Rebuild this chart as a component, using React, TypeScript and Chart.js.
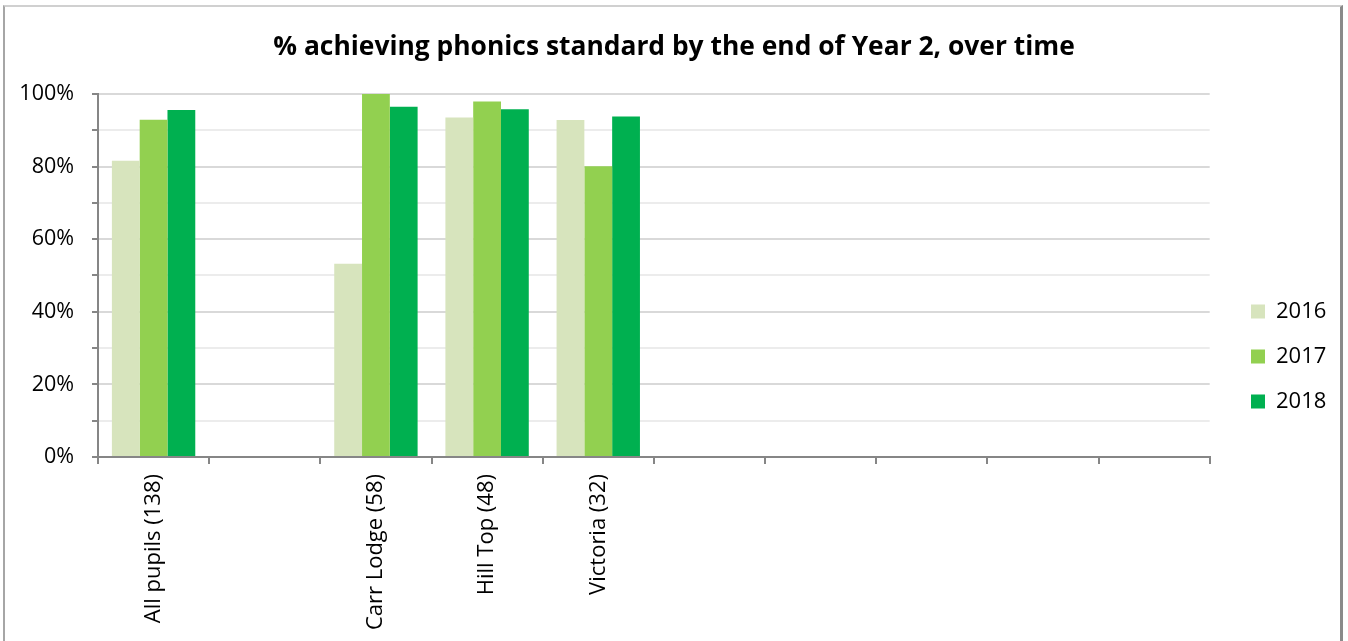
import React, { useEffect, useRef } from 'react';
import { Chart, registerables } from 'chart.js';

Chart.register(...registerables);

const categories = ['All pupils (138)', '', 'Carr Lodge (58)', 'Hill Top (48)', 'Victoria (32)', '', '', '', '', ''];
const values2016 = [81.6, null, 53.2, 93.5, 92.8, null, null, null, null, null];
const values2017 = [92.9, null, 100, 97.9, 80.1, null, null, null, null, null];
const values2018 = [95.6, null, 96.5, 95.8, 93.8, null, null, null, null, null];
const seriesNames = ['2016', '2017', '2018'];
const seriesColors = ['#d7e4bd', '#92d050', '#00b050'];
const titleText = '% achieving phonics standard by the end of Year 2, over time';

const FONT = "'Open Sans', 'Noto Sans', sans-serif";
const AXIS_GREY = '#868686';
const W = 1348;
const H = 641;

const LEGEND_BOX_X = 1251;
const LEGEND_DY = 36;

const layoutNudge = {
  id: 'layoutNudge',
  afterLayout(chart: any) {
    const lg = chart.legend;
    if (lg) {
      const pad = lg.options.labels.padding;
      const dx = LEGEND_BOX_X - (lg.left + pad);
      lg.left += dx;
      lg.right += dx;
      lg.top += LEGEND_DY;
      lg.bottom += LEGEND_DY;
    }
    const tt = chart.titleBlock;
    if (tt) {
      tt.left = 0;
      tt.right = W;
      tt.width = W;
    }
  },
};

export default function App() {
  const ref = useRef<HTMLCanvasElement | null>(null);

  useEffect(() => {
    if (!ref.current) return;
    const seriesValues = [values2016, values2017, values2018];
    const chart = new Chart(ref.current, {
      type: 'bar',
      data: {
        labels: categories,
        datasets: seriesNames.map((name, i) => ({
          label: name,
          data: seriesValues[i],
          backgroundColor: seriesColors[i],
          borderWidth: 0,
          barPercentage: 1,
          categoryPercentage: 0.75,
        })),
      },
      options: {
        animation: false,
        responsive: false,
        devicePixelRatio: 1,
        layout: { padding: { left: 0, top: 0, right: 30, bottom: 0 } },
        plugins: {
          title: {
            display: true,
            text: titleText,
            color: '#000',
            font: { family: FONT, size: 26.4, weight: 'bold', lineHeight: 1.2 },
            padding: { top: 31.2, bottom: 31.1 },
          },
          legend: {
            display: true,
            position: 'right',
            align: 'center',
            labels: {
              boxWidth: 14,
              boxHeight: 14,
              padding: 23,
              color: '#000',
              font: { family: FONT, size: 22 },
            },
          },
          tooltip: { enabled: false },
        },
        scales: {
          x: {
            offset: true,
            grid: {
              display: true,
              drawOnChartArea: false,
              drawTicks: true,
              tickLength: 7,
              offset: true,
              color: AXIS_GREY,
              lineWidth: 2,
            },
            border: { display: true, color: AXIS_GREY, width: 2 },
            ticks: {
              autoSkip: false,
              maxRotation: 90,
              minRotation: 90,
              padding: 10,
              color: '#000',
              font: { family: FONT, size: 22 },
            },
            afterFit: (scale: any) => {
              scale.height = 184;
            },
          },
          y: {
            min: 0,
            max: 100,
            grid: {
              color: (ctx: any) => (ctx.tick && ctx.tick.value % 20 === 0 ? '#d9d9d9' : '#ececec'),
              lineWidth: 2,
              tickLength: 6,
              tickColor: AXIS_GREY,
              drawTicks: true,
            },
            border: { display: true, color: AXIS_GREY, width: 2 },
            ticks: {
              stepSize: 10,
              padding: 18,
              color: '#000',
              font: { family: FONT, size: 21.5 },
              callback: (v: any) => (Number(v) % 20 === 0 ? `${v}%` : ''),
            },
            afterFit: (scale: any) => {
              scale.width = 98;
            },
          },
        },
      },
      plugins: [layoutNudge],
    });
    return () => chart.destroy();
  }, []);

  return (
    <div style={{ position: 'absolute', left: 0, top: 0, width: W, height: H, background: '#fff', overflow: 'hidden' }}>
      <div
        style={{
          position: 'absolute',
          left: 3,
          top: 5,
          width: 1340,
          height: 660,
          borderTop: '2px solid #d0d0d0',
          borderLeft: '2px solid #a6a6a6',
          borderRight: '3px solid #8a8a8a',
          boxSizing: 'border-box',
        }}
      />
      <canvas ref={ref} width={W} height={H} style={{ position: 'absolute', left: 0, top: 0, width: W, height: H }} />
    </div>
  );
}
